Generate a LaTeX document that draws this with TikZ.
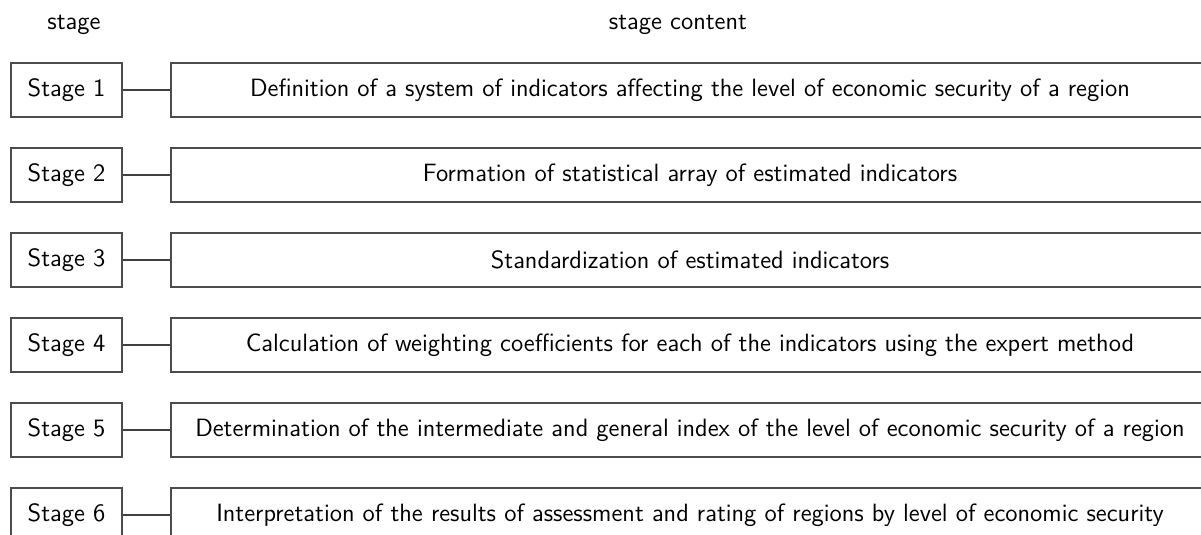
\documentclass[tikz,border=0pt]{standalone}
\usetikzlibrary{shadows}
\renewcommand{\familydefault}{\sfdefault}
\begin{document}
\begin{tikzpicture}[x=0.5pt,y=-0.5pt,
  font=\fontsize{12.5}{15}\selectfont\sffamily,
  box/.style={draw=black!70, line width=0.6pt, fill=white, rectangle, inner sep=0pt,
    drop shadow={shadow xshift=0.6pt, shadow yshift=-0.6pt, fill=black!45, opacity=0.7}},
  stagebox/.style={box, minimum width=55.5pt, minimum height=27pt},
  contentbox/.style={box, minimum width=519pt, minimum height=27pt},
  link/.style={draw=black!75, line width=0.6pt},
  header/.style={inner sep=0pt}]
  \useasboundingbox (0,0) rectangle (1201,535);
  \clip (0,0) rectangle (1201,535);

  % column headings
  \node[header] (hstage) at (74,25) {stage};
  \node[header] (hcontent) at (678,25) {stage content};

  % one row per stage: label box, content box and the line joining them
  \foreach \i/\txt in {
    1/{Definition of a system of indicators affecting the level of economic security of a region},
    2/{Formation of statistical array of estimated indicators},
    3/{Standardization of estimated indicators},
    4/{Calculation of weighting coefficients for each of the indicators using the expert method},
    5/{Determination of the intermediate and general index of the level of economic security of a region},
    6/{Interpretation of the results of assessment and rating of regions by level of economic security}}
  {
    \pgfmathsetmacro{\yy}{90+85*(\i-1)}
    \node[stagebox] (s\i) at (66.5,\yy) {Stage \i};
    \node[contentbox] (c\i) at (690,\yy) {\txt};
    \draw[link] (s\i.east) -- (c\i.west);
  }
\end{tikzpicture}
\end{document}
